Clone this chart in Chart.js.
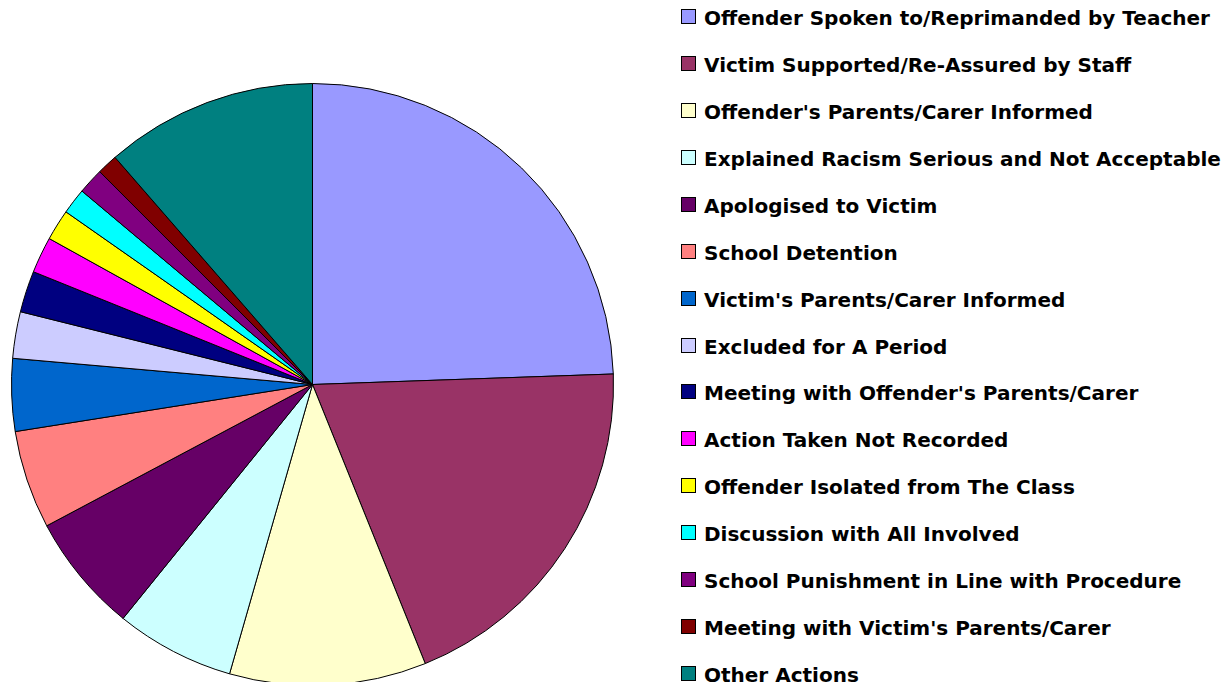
<!DOCTYPE html>
<html>
<head>
<meta charset="utf-8">
<script src="https://cdn.jsdelivr.net/npm/chart.js@4/dist/chart.umd.min.js"></script>
<style>
  html, body { margin: 0; padding: 0; background: #fff; overflow: hidden; }
  #wrap { position: relative; width: 1227px; height: 682px; }
  #pieBox { position: absolute; left: 0; top: 0; width: 614px; height: 686px; }
  #legend { position: absolute; left: 681px; top: 0; margin: 0; padding: 0; list-style: none;
            font-family: "DejaVu Sans", sans-serif; font-weight: bold; font-size: 20px; color: #000; }
  #legend li { position: absolute; white-space: nowrap; height: 24px; line-height: 24px; }
  #legend span.box { position: absolute; left: 0; top: 3px; width: 13px; height: 13px; border: 1px solid #000; }
  #legend span.txt { position: absolute; left: 23px; top: 0; }
</style>
</head>
<body>
<div id="wrap">
  <div id="pieBox"><canvas id="actionsChart"></canvas></div>
  <ul id="legend"></ul>
</div>
<script>
const labels = [
  'Offender Spoken to/Reprimanded by Teacher',
  'Victim Supported/Re-Assured by Staff',
  "Offender's Parents/Carer Informed",
  'Explained Racism Serious and Not Acceptable',
  'Apologised to Victim',
  'School Detention',
  "Victim's Parents/Carer Informed",
  'Excluded for A Period',
  "Meeting with Offender's Parents/Carer",
  'Action Taken Not Recorded',
  'Offender Isolated from The Class',
  'Discussion with All Involved',
  'School Punishment in Line with Procedure',
  "Meeting with Victim's Parents/Carer",
  'Other Actions'
]
const counts = [88, 70, 38, 23, 23, 19, 14, 9, 8, 7, 6, 5, 5, 4, 41]
const colours = ['#9999FF', '#993366', '#FFFFCC', '#CCFFFF', '#660066', '#FF8080', '#0066CC',
  '#CCCCFF', '#000080', '#FF00FF', '#FFFF00', '#00FFFF', '#800080', '#800000', '#008080']

const ctx = document.getElementById('actionsChart').getContext('2d')
new Chart(ctx, {
  type: 'pie',
  data: {
    labels: labels,
    datasets: [{
      data: counts,
      backgroundColor: colours,
      borderColor: '#000',
      borderWidth: 1,
      hoverOffset: 0
    }]
  },
  options: {
    responsive: true,
    maintainAspectRatio: false,
    animation: false,
    layout: { padding: { left: 11, top: 83, right: 0, bottom: 0 } },
    plugins: {
      legend: { display: false },
      tooltip: { enabled: false }
    }
  }
})

// legend on the right, one row per category
const legend = document.getElementById('legend')
labels.forEach((label, i) => {
  const li = document.createElement('li')
  li.style.top = (6 + i * 46.93) + 'px'
  li.innerHTML = '<span class="box" style="background:' + colours[i] + '"></span><span class="txt"></span>'
  li.querySelector('.txt').textContent = label
  legend.appendChild(li)
})
</script>
</body>
</html>
